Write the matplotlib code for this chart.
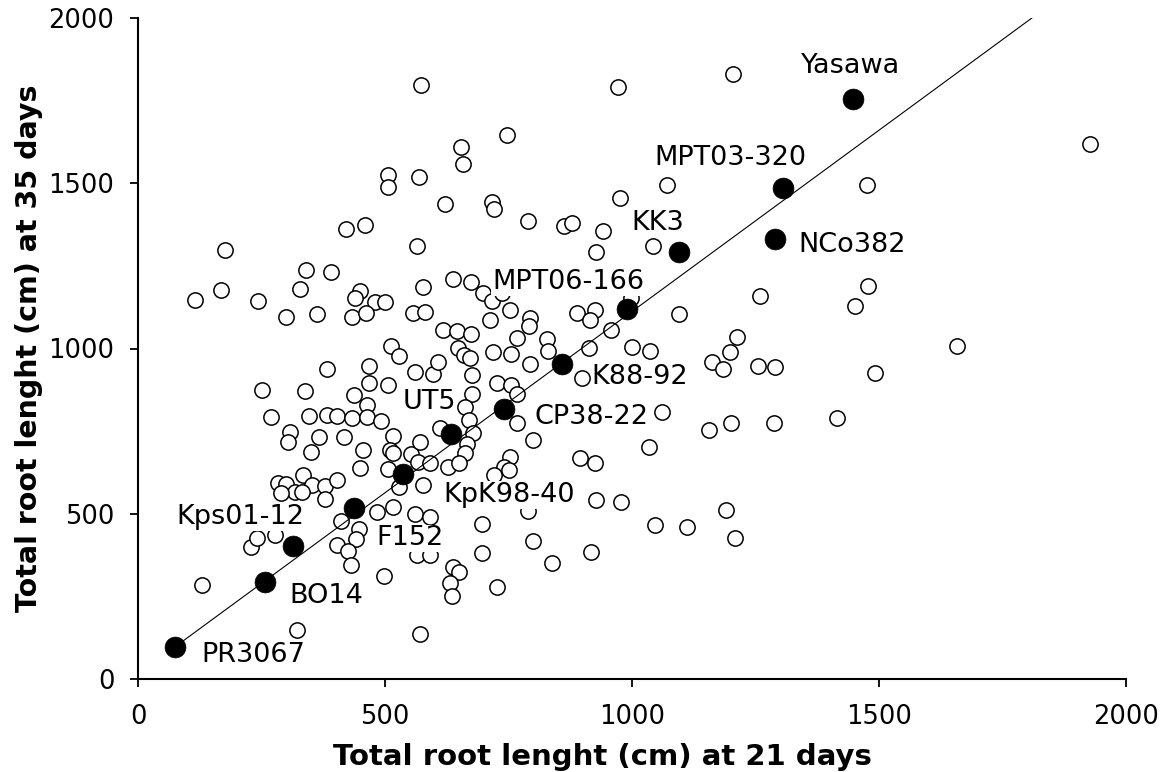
import matplotlib
matplotlib.use("Agg")
import matplotlib.pyplot as plt

# open circles: all clones (root length at 21 d, at 35 d)
open_x = [572, 653, 658, 506, 506, 568, 622, 422, 460, 971, 1205, 746, 717, 721, 790, 862,
          878, 941, 976, 1071, 1476, 1927, 565, 177, 927, 1043,
          116, 168, 242, 300, 328, 363, 449, 439, 480, 499, 434, 462, 576, 557, 580, 512,
          529, 382, 468, 561, 597, 252, 339, 468, 507, 437, 464, 269, 346, 383, 403, 433,
          463, 492, 308, 304, 366, 418, 350, 456, 517, 510, 516, 552, 571, 449, 507, 341,
          390, 638, 674,
          618, 645, 674, 648, 660, 673, 607, 676, 677, 662, 611, 671, 678, 666, 662, 628, 650,
          699, 716, 736, 754, 794, 792, 713, 888, 925, 915, 998, 958, 1259, 1095, 767, 828,
          830, 719, 756, 793, 912, 999, 1036, 1212, 1198, 1161, 1185, 1256, 1289, 898, 727,
          756, 768, 1060, 767, 800, 1156, 1200, 1288, 1035, 895, 925, 753, 741, 751, 721,
          1478, 1451, 1657, 1492, 1414,
          567, 591, 577, 529, 284, 299, 334, 353, 379, 402, 318, 331, 290, 378, 517, 484,
          410, 447, 441, 403, 426, 432, 561, 591, 696, 790, 800, 696, 839, 918, 564, 591,
          638, 649, 631, 635, 726, 497, 927, 978, 1047, 1111, 1190, 1209, 229, 241, 277,
          130, 321, 570]
open_y = [1798, 1610, 1559, 1524, 1489, 1519, 1438, 1362, 1375, 1792, 1831, 1647, 1442, 1423,
          1385, 1370, 1380, 1355, 1455, 1496, 1496, 1620, 1310, 1298, 1293, 1310,
          1147, 1177, 1145, 1096, 1180, 1104, 1175, 1152, 1142, 1142, 1096, 1107, 1187, 1107,
          1110, 1008, 977, 937, 947, 930, 923, 874, 871, 895, 890, 859, 829, 792, 797, 799,
          796, 789, 794, 781, 748, 716, 731, 731, 688, 693, 735, 693, 684, 680, 716, 637,
          635, 1237, 1231, 1209, 1201,
          1056, 1053, 1044, 1001, 980, 970, 960, 920, 862, 823, 759, 784, 743, 711, 685, 642,
          654,
          1169, 1144, 1167, 1116, 1091, 1068, 1087, 1107, 1116, 1086, 1152, 1056, 1159, 1104,
          1031, 1029, 992, 990, 983, 953, 1001, 1006, 992, 1036, 990, 960, 937, 947, 945, 910,
          895, 890, 861, 809, 774, 723, 753, 775, 774, 702, 668, 655, 672, 641, 632, 617,
          1189, 1129, 1008, 927, 791,
          657, 653, 587, 580, 593, 590, 617, 587, 583, 601, 567, 567, 562, 544, 520, 506,
          479, 454, 424, 405, 387, 345, 499, 491, 469, 508, 418, 382, 352, 385, 375, 375,
          338, 325, 290, 251, 279, 311, 542, 536, 466, 461, 511, 426, 399, 428, 436,
          284, 148, 137]

# named clones (filled)
clones = ["PR3067", "BO14", "Kps01-12", "F152", "KpK98-40", "UT5", "CP38-22", "K88-92",
          "MPT06-166", "KK3", "NCo382", "MPT03-320", "Yasawa"]
clone_x = [74, 257, 313, 438, 536, 634, 741, 858, 990, 1095, 1289, 1306, 1448]
clone_y = [96, 293, 402, 516, 620, 742, 818, 953, 1120, 1293, 1331, 1485, 1755]

# trend line
line_slope, line_icpt = 1.097, 15
line_x = [74, 1810]

# label offsets (pixels) from each filled dot
label_off = [(79, -8), (61, -14), (-52, 29), (56, -30), (106, -21), (-22, 32), (87, -8),
             (78, -13), (-59, 27), (-21, 29), (77, -6), (-53, 30), (-3, 33)]

plt.rcParams.update({"font.family": "DejaVu Sans", "font.size": 18})

fig = plt.figure(figsize=(11.64, 7.72), dpi=100)
ax = fig.add_axes([138 / 1164, 1 - 679 / 772, 988 / 1164, 661 / 772])

ax.plot(open_x, open_y, "o", ms=11, mfc="white", mec="black", mew=1.1, ls="none", zorder=2)
ax.plot(line_x, [line_slope * v + line_icpt for v in line_x], color="black", lw=0.8, zorder=3)
ax.plot(clone_x, clone_y, "o", ms=15, mfc="black", mec="black", mew=0.5, ls="none", zorder=4)

for name, x, y, (dx, dy) in zip(clones, clone_x, clone_y, label_off):
    ax.annotate(name, (x, y), xytext=(dx, dy), textcoords="offset pixels",
                ha="center", va="center", fontsize=19.5, zorder=5,
                bbox=dict(facecolor="white", edgecolor="none", pad=0.5))

ax.set_xlim(0, 2000)
ax.set_ylim(0, 2000)
ax.set_xticks([0, 500, 1000, 1500, 2000])
ax.set_yticks([0, 500, 1000, 1500, 2000])
ax.tick_params(direction="out", length=6, width=1.3, labelsize=18.5)
ax.tick_params(axis="x", pad=12)
ax.tick_params(axis="y", pad=11)
for sp in ("top", "right"):
    ax.spines[sp].set_visible(False)
for sp in ("left", "bottom"):
    ax.spines[sp].set_linewidth(1.5)

ax.set_xlabel("Total root lenght (cm) at 21 days", fontsize=21, fontweight="bold", va="center")
ax.set_ylabel("Total root lenght (cm) at 35 days", fontsize=20.5, fontweight="bold", va="center")
ax.xaxis.set_label_coords(0.47, -0.118)
ax.yaxis.set_label_coords(-0.11, 0.5)

fig.savefig("out.png", dpi=100)
